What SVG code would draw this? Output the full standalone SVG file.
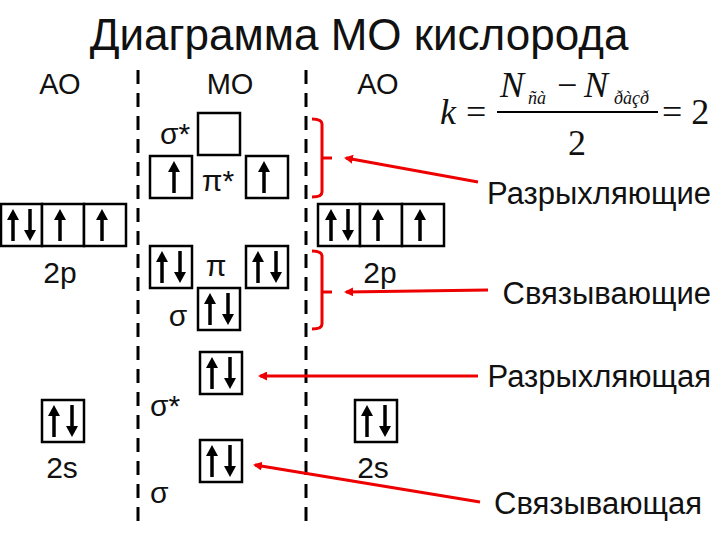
<svg xmlns="http://www.w3.org/2000/svg" width="720" height="540" viewBox="0 0 720 540">
<style>
.t{font-family:"Liberation Sans",Arial,sans-serif;fill:#111}
.b{fill:#fff;stroke:#000;stroke-width:2.5}
.d{stroke:#000;stroke-width:3;stroke-dasharray:14,9}
.r{fill:none;stroke:#e00;stroke-width:3}
.f{font-family:"Liberation Serif","Times New Roman",serif;fill:#111}
</style>
<defs>
<g id="up"><line x1="0" y1="16" x2="0" y2="-8" stroke="#000" stroke-width="3.5"/><polygon points="-6,-5 6,-5 0,-16"/></g>
<g id="dn"><line x1="0" y1="-16" x2="0" y2="8" stroke="#000" stroke-width="3.5"/><polygon points="-6,5 6,5 0,16"/></g>
<marker id="ra" markerWidth="9" markerHeight="9" refX="7" refY="4.5" orient="auto" markerUnits="userSpaceOnUse" viewBox="0 0 9 9"><path d="M0,0 L9,4.5 L0,9z" fill="#e00"/></marker>
</defs>
<rect width="720" height="540" fill="#fff"/>
<text class="t" x="359" y="50" font-size="44" text-anchor="middle">Диаграмма МО кислорода</text>
<text class="t" x="60" y="94" font-size="29" text-anchor="middle">АО</text>
<text class="t" x="230" y="94" font-size="29" text-anchor="middle">МО</text>
<text class="t" x="378" y="94" font-size="29" text-anchor="middle">АО</text>
<line class="d" x1="138" y1="70" x2="138" y2="530"/>
<line class="d" x1="306" y1="70" x2="306" y2="530"/>
<g id="formula">
<text class="f" x="440" y="124" font-size="36" font-style="italic">k</text>
<text class="f" x="466" y="124" font-size="36">=</text>
<line x1="497" y1="112" x2="658" y2="112" stroke="#000" stroke-width="2"/>
<text class="f" x="500" y="97" font-size="36" font-style="italic">N</text>
<text class="f" x="528" y="104" font-size="18" font-style="italic">ñà</text>
<text class="f" x="557" y="97" font-size="36">−</text>
<text class="f" x="584" y="97" font-size="36" font-style="italic">N</text>
<text class="f" x="614" y="104" font-size="18" font-style="italic">ðàçð</text>
<text class="f" x="568" y="155" font-size="36">2</text>
<text class="f" x="662" y="124" font-size="36">= 2</text>
</g>
<g id="ao-left-2p">
<rect class="b" x="1" y="204" width="41" height="42"/><rect class="b" x="42" y="204" width="42" height="42"/><rect class="b" x="84" y="204" width="42" height="42"/>
<use href="#up" x="13" y="225"/><use href="#dn" x="30" y="225"/><use href="#up" x="60" y="225"/><use href="#up" x="102" y="225"/>
<text class="t" x="60" y="283" font-size="30" text-anchor="middle">2p</text>
</g>
<g id="ao-right-2p">
<rect class="b" x="318" y="204" width="42" height="42"/><rect class="b" x="360" y="204" width="42" height="42"/><rect class="b" x="402" y="204" width="42" height="42"/>
<use href="#up" x="331" y="225"/><use href="#dn" x="348" y="225"/><use href="#up" x="378" y="225"/><use href="#up" x="420" y="225"/>
<text class="t" x="380" y="283" font-size="30" text-anchor="middle">2p</text>
</g>
<g id="mo-sigma-star-2p">
<rect class="b" x="198" y="113" width="42" height="42"/>
<text class="t" x="175" y="144" font-size="30" text-anchor="middle">σ*</text>
</g>
<g id="mo-pi-star">
<rect class="b" x="150" y="156" width="42" height="42"/><rect class="b" x="246" y="156" width="42" height="42"/>
<use href="#up" x="174" y="177"/><use href="#up" x="264" y="177"/>
<text class="t" x="218" y="191" font-size="30" text-anchor="middle">π*</text>
</g>
<g id="mo-pi">
<rect class="b" x="150" y="246" width="42" height="42"/><rect class="b" x="246" y="246" width="42" height="42"/>
<use href="#up" x="162" y="267"/><use href="#dn" x="180" y="267"/><use href="#up" x="258" y="267"/><use href="#dn" x="276" y="267"/>
<text class="t" x="216" y="276" font-size="30" text-anchor="middle">π</text>
</g>
<g id="mo-sigma-2p">
<rect class="b" x="198" y="288" width="42" height="42"/>
<use href="#up" x="210" y="309"/><use href="#dn" x="228" y="309"/>
<text class="t" x="178" y="326" font-size="30" text-anchor="middle">σ</text>
</g>
<g id="ao-left-2s">
<rect class="b" x="42" y="400" width="42" height="42"/>
<use href="#up" x="54" y="421"/><use href="#dn" x="72" y="421"/>
<text class="t" x="62" y="478" font-size="30" text-anchor="middle">2s</text>
</g>
<g id="ao-right-2s">
<rect class="b" x="355" y="400" width="42" height="42"/>
<use href="#up" x="367" y="421"/><use href="#dn" x="385" y="421"/>
<text class="t" x="373" y="478" font-size="30" text-anchor="middle">2s</text>
</g>
<g id="mo-sigma-star-2s">
<rect class="b" x="200" y="352" width="42" height="42"/>
<use href="#up" x="212" y="373"/><use href="#dn" x="230" y="373"/>
<text class="t" x="150" y="416" font-size="30">σ*</text>
</g>
<g id="mo-sigma-2s">
<rect class="b" x="200" y="440" width="42" height="42"/>
<use href="#up" x="212" y="461"/><use href="#dn" x="230" y="461"/>
<text class="t" x="150" y="503" font-size="30">σ</text>
</g>
<g id="labels">
<text class="t" x="711" y="204" font-size="31" text-anchor="end">Разрыхляющие</text>
<text class="t" x="711" y="304" font-size="31" text-anchor="end">Связывающие</text>
<text class="t" x="711" y="387" font-size="31" text-anchor="end">Разрыхляющая</text>
<text class="t" x="702" y="514" font-size="31" text-anchor="end">Связывающая</text>
</g>
<g id="connectors">
<path class="r" d="M312,119 Q322,119 322,124 V192 Q322,197 312,197 M322,158 H332"/>
<path class="r" d="M312,251 Q322,251 322,256 V324 Q322,329 312,329 M322,292 H332"/>
<line class="r" x1="478" y1="182" x2="346" y2="158" marker-end="url(#ra)"/>
<line class="r" x1="488" y1="290" x2="346" y2="292" marker-end="url(#ra)"/>
<line class="r" x1="478" y1="376" x2="260" y2="376" marker-end="url(#ra)"/>
<line class="r" x1="480" y1="502" x2="255" y2="465" marker-end="url(#ra)"/>
</g>
</svg>
